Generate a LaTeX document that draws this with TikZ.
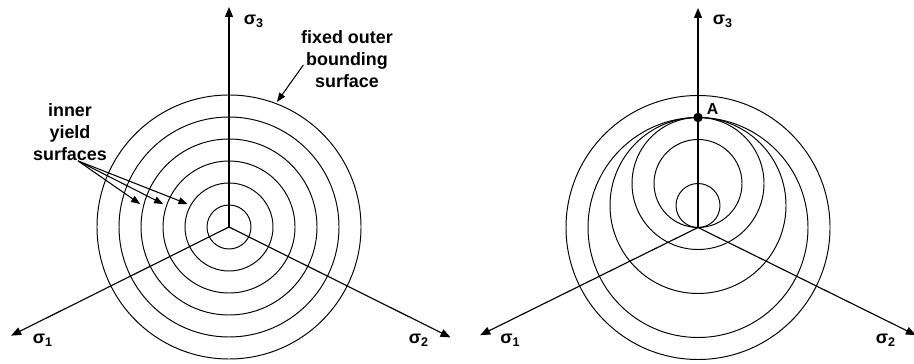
\documentclass[tikz,border=0pt]{standalone}
\usepackage{fontspec}
\setmainfont{Liberation Sans}
\usetikzlibrary{arrows.meta, positioning}

\begin{document}
\begin{tikzpicture}[font=\bfseries\fontsize{10.2}{12.5}\selectfont,
  ring/.style={line width=0.55pt},
  axis/.style={-{Triangle[length=2mm, width=1.6mm]}, line width=0.65pt},
  ptr/.style={-{Triangle[length=1.8mm, width=1.4mm]}, line width=0.6pt},
  lbl/.style={inner sep=0pt, align=center},
  dot/.style={circle, fill, inner sep=0pt, minimum size=0.19cm}]
  \useasboundingbox (0,0) rectangle (18.28,7.28);
  % left: concentric yield surfaces
  \begin{scope}[shift={(4.58,2.74)}]
    \coordinate (o1) at (0,0);
    \foreach \k in {1,...,6} \draw[ring] (o1) circle ({0.44*\k});
    \coordinate (l3) at (0,4.4);
    \coordinate (l1) at (206.5:4.87);
    \coordinate (l2) at (-26.5:4.95);
    \draw[axis] (o1) -- (l3);
    \draw[axis] (o1) -- (l1);
    \draw[axis] (o1) -- (l2);
    \node[lbl] (ls3) at (0.5,4.12) {σ\textsubscript{3}};
    \node[lbl] (ls1) at (-3.72,-2.26) {σ\textsubscript{1}};
    \node[lbl] (ls2) at (3.8,-2.26) {σ\textsubscript{2}};
    \node[lbl] (fix) at (2.36,3.36) {fixed outer\\bounding\\surface};
    \coordinate (fixhd) at (69:2.68);
    \draw[ptr] ([xshift=0.05cm, yshift=-0.12cm]fix.west) -- (fixhd);
    \node[lbl] (yield) at (-3.18,1.9) {inner\\yield\\surfaces};
    \foreach \k in {4,3,2} {
      \coordinate (yhd\k) at ({-sqrt((0.44*\k)^2-0.46^2)-0.08},0.46);
      \draw[ptr] ([xshift=0.16cm]yield.south) -- (yhd\k);
    }
  \end{scope}
  % right: surfaces touching at A
  \begin{scope}[shift={(13.96,2.73)}]
    \coordinate (o2) at (0,0);
    \foreach \c/\r in {0/6, 0/5, 1/4, 2/3, 2/2, 1/1}
      \draw[ring] (0,0.44*\c) circle ({0.44*\r});
    \coordinate (r3) at (0,4.39);
    \coordinate (r1) at (206.3:4.86);
    \coordinate (r2) at (-26.3:4.86);
    \draw[axis] (o2) -- (r3);
    \draw[axis] (o2) -- (r1);
    \draw[axis] (o2) -- (r2);
    \node[lbl] (rs3) at (0.5,4.13) {σ\textsubscript{3}};
    \node[lbl] (rs1) at (-3.75,-2.25) {σ\textsubscript{1}};
    \node[lbl] (rs2) at (3.76,-2.25) {σ\textsubscript{2}};
    \node[dot] (A) at (0,2.2) {};
    \node[lbl, font=\bfseries\fontsize{9}{10}\selectfont, above right=-0.02cm and 0.1cm of A] (alab) {A};
  \end{scope}
\end{tikzpicture}
\end{document}
